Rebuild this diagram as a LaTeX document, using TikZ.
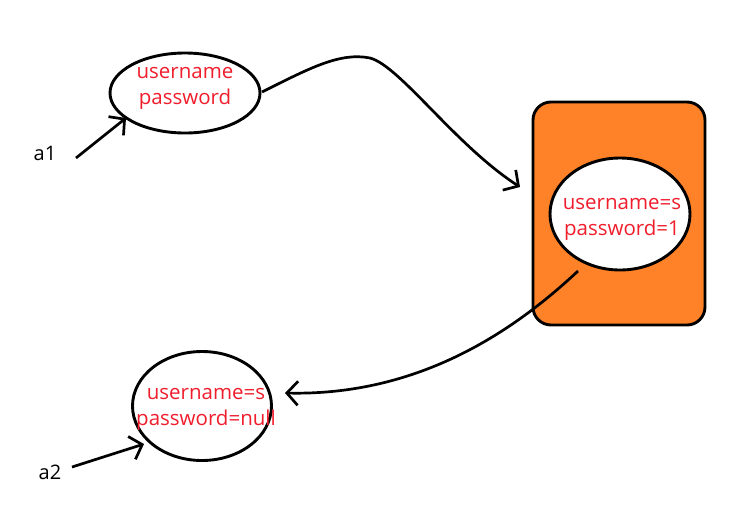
\documentclass[tikz,border=0pt]{standalone}
\usepackage{fontspec}
\setmainfont{Open Sans}
\usetikzlibrary{arrows.meta,shapes.geometric}
\definecolor{boxorange}{RGB}{255,130,40}
\definecolor{txtred}{RGB}{240,30,45}
\tikzset{
  oval/.style={ellipse, draw=black, line width=2.9pt, fill=white, inner sep=0pt},
  redtxt/.style={text=txtred, font=\fontsize{20.5}{26}\selectfont, align=center},
  lbl/.style={font=\fontsize{20}{22}\selectfont, text=black},
  conn/.style={line width=2.7pt, -{Straight Barb[length=11pt,width=24pt,line width=2.7pt]}},
}
\begin{document}
\begin{tikzpicture}[x=1pt,y=-1pt]
\useasboundingbox (0,0) rectangle (749,520);
% orange box
\node[draw=black, line width=2.9pt, fill=boxorange, rounded corners=18pt,
      minimum width=172pt, minimum height=223pt, inner sep=0pt] (box) at (619,213.5) {};
% ellipses
\node[oval, minimum width=150pt, minimum height=80pt] (e1) at (185,93) {};
\node[oval, minimum width=140pt, minimum height=112pt] (e2) at (620,214) {};
\node[oval, minimum width=139pt, minimum height=109pt] (e3) at (202,406) {};
% texts
\node[redtxt] (t1) at (185,88) {username\\password};
\node[redtxt] (t2) at (622,219) {username=s\\password=1};
\node[redtxt] (t3) at (206,409) {username=s\\password=null};
\node[lbl] (a1) at (45,153) {a1};
\node[lbl] (a2) at (50,472) {a2};
% connector points
\coordinate (s1) at (76,158);
\coordinate (h1) at (126,118);
\coordinate (s2) at (262,92);
\coordinate (m2) at (370,58);
\coordinate (h2) at (520,187);
\coordinate (s3) at (578,271);
\coordinate (h3) at (285,393);
\coordinate (s4) at (72,467);
\coordinate (h4) at (144,444);
% connectors
\draw[conn] (s1) -- (h1);
\draw[conn] (s2) .. controls (310,68) and (340,52) .. (m2) .. controls (400,66) and (455,145) .. (h2);
\draw[conn] (s3) .. controls (515,330) and (420,396) .. (h3);
\draw[conn] (s4) -- (h4);
\end{tikzpicture}
\end{document}
